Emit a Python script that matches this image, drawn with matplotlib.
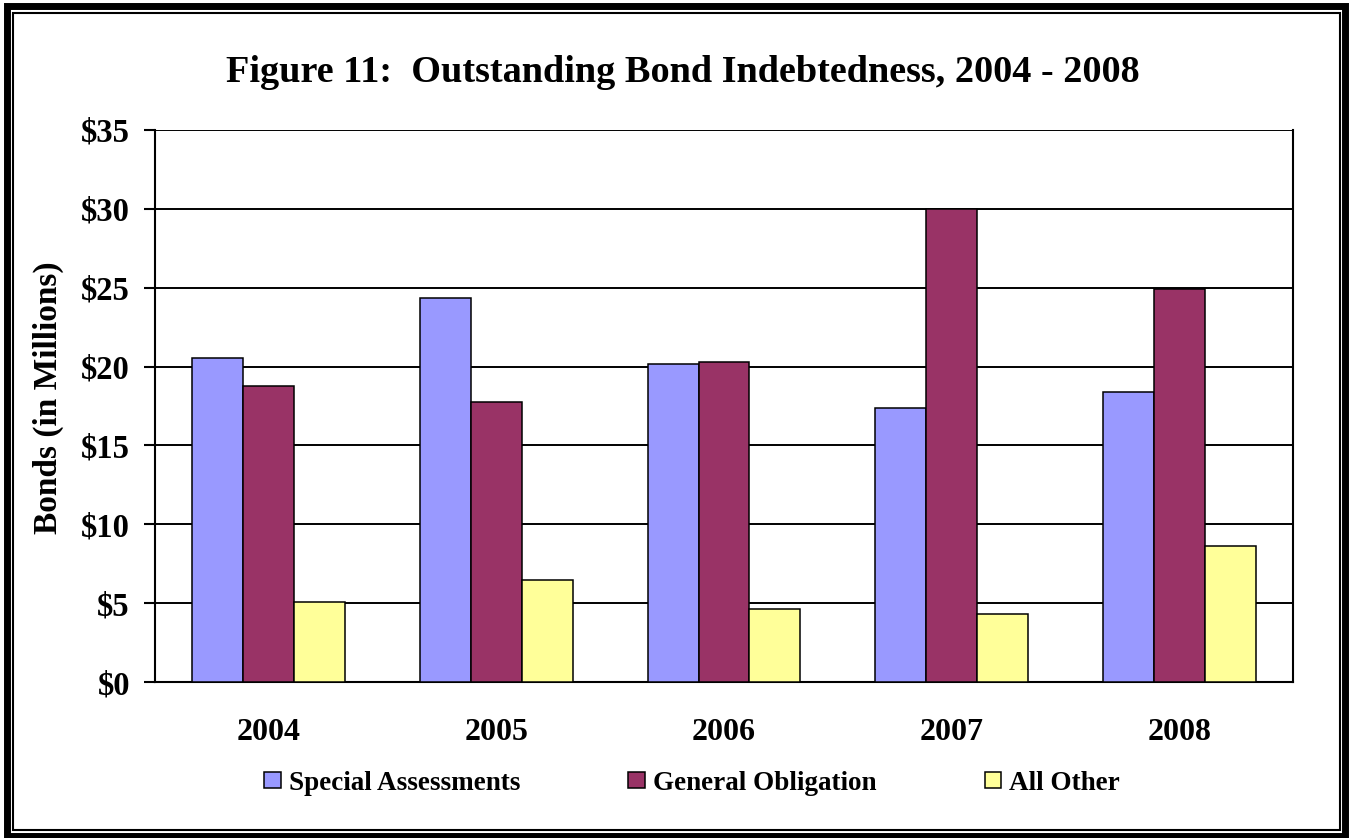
import numpy as np
import matplotlib
matplotlib.use("Agg")
import matplotlib.pyplot as plt
from matplotlib.patches import Rectangle

# data (millions of dollars)
years = ["2004", "2005", "2006", "2007", "2008"]
special_assessments = [20.55, 24.35, 20.15, 17.35, 18.4]
general_obligation = [18.75, 17.75, 20.3, 30.0, 24.95]
all_other = [5.1, 6.45, 4.6, 4.3, 8.6]
series_names = ["Special Assessments", "General Obligation", "All Other"]
colors = ["#9999FF", "#993366", "#FFFF99"]

plt.rcParams["font.family"] = ["Liberation Serif", "DejaVu Serif"]
plt.rcParams["font.weight"] = "bold"

fig = plt.figure(figsize=(13.49, 8.38), dpi=100)
ax = fig.add_axes([155 / 1349, 1 - 682 / 838, (1293 - 155) / 1349, (682 - 130) / 838])

x = np.arange(len(years))
w = 0.224
for i, vals in enumerate([special_assessments, general_obligation, all_other]):
    ax.bar(x + (i - 1) * w, vals, w, color=colors[i], edgecolor="black",
           linewidth=1.1, label=series_names[i], zorder=3)

ax.set_xlim(-0.5, len(years) - 0.5)
ax.set_ylim(0, 35)
ax.set_yticks(np.arange(0, 36, 5))
ax.set_yticklabels(["$%d" % v for v in range(0, 36, 5)], fontsize=23.5, fontweight="bold")
ax.set_xticks(x)
ax.set_xticklabels(years, fontsize=23, fontweight="bold")
ax.tick_params(axis="x", length=0, pad=26)
ax.tick_params(axis="y", length=8, width=1.5, direction="out", pad=10)
ax.yaxis.grid(True, color="black", linewidth=1.4, zorder=0)
for s in ax.spines.values():
    s.set_linewidth(1.5)
ax.spines["top"].set_visible(False)
ax.set_ylabel("Bonds (in Millions)", fontsize=24, fontweight="bold")
ax.yaxis.set_label_coords(-0.08, 0.515)

fig.text(0.506, 1 - 72 / 838, "Figure 11:  Outstanding Bond Indebtedness, 2004 - 2008",
         ha="center", va="center", fontsize=27.5, fontweight="bold")

leg = fig.legend(loc="center", bbox_to_anchor=(0.513, 1 - 783 / 838), ncol=3, frameon=False,
                 prop={"size": 19.5, "weight": "bold"}, handlelength=0.6, handleheight=0.55,
                 handletextpad=0.3, columnspacing=4.0)

# double frame round the picture
fig.patches.append(Rectangle((6.8 / 1349, 1 - 835.5 / 838), (1345 - 6.8) / 1349, (835.5 - 6.5) / 838,
                             transform=fig.transFigure, fill=False, edgecolor="black", linewidth=5))
fig.patches.append(Rectangle((13 / 1349, 1 - 830 / 838), (1339.5 - 13) / 1349, (830 - 13) / 838,
                             transform=fig.transFigure, fill=False, edgecolor="black", linewidth=1.5))

fig.savefig("out.png", dpi=100)
